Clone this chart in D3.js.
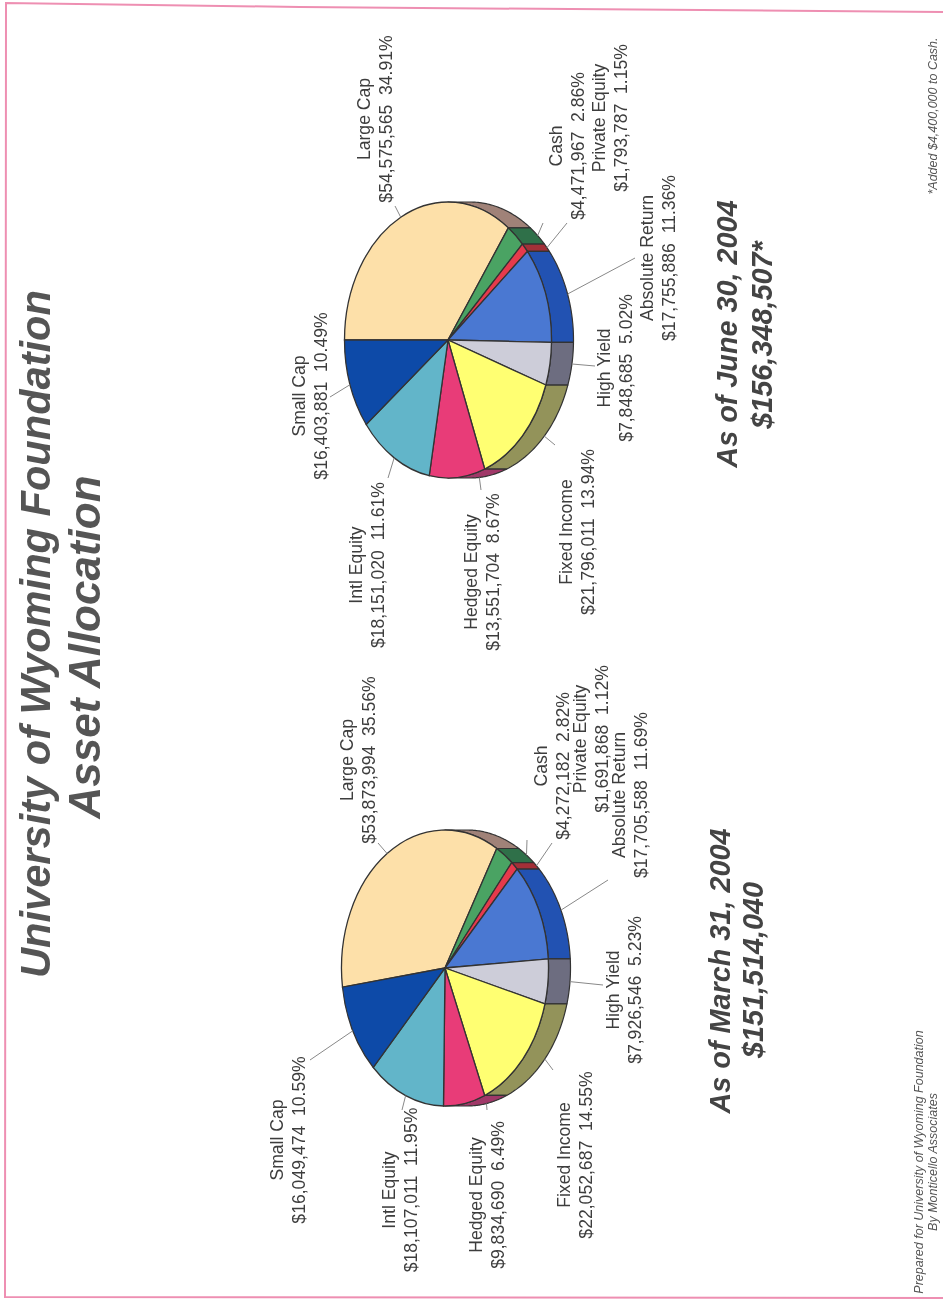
<!DOCTYPE html>
<html>
<head>
<meta charset="utf-8">
<script src="https://cdn.jsdelivr.net/npm/d3@7"></script>
<style>
    html, body { margin: 0; padding: 0; background: #fff; }
    svg { display: block; filter: blur(0.4px); }
    text { font-family: "Liberation Sans", Arial, sans-serif; fill: #3d3d3d; }
    .title { font-size: 41.6px; font-weight: bold; font-style: italic; fill: #555; }
    .subtitle { font-size: 44px; font-weight: bold; font-style: italic; fill: #555; }
    .asof { font-size: 28.8px; font-weight: bold; font-style: italic; fill: #444; }
    .note { font-size: 12.5px; font-style: italic; fill: #555; }
    .label { font-size: 17.6px; }
</style>
</head>
<body>
<div id="chart"></div>
<script>
// Asset classes, same order on both pies
var assetNames = ["Large Cap", "Cash", "Private Equity", "Absolute Return", "High Yield", "Fixed Income", "Hedged Equity", "Intl Equity", "Small Cap"];

var marchValues = [53873994, 4272182, 1691868, 17705588, 7926546, 22052687, 9834690, 18107011, 16049474];
var marchPercents = ["35.56%", "2.82%", "1.12%", "11.69%", "5.23%", "14.55%", "6.49%", "11.95%", "10.59%"];

var juneValues = [54575565, 4471967, 1793787, 17755886, 7848685, 21796011, 13551704, 18151020, 16403881];
var junePercents = ["34.91%", "2.86%", "1.15%", "11.36%", "5.02%", "13.94%", "8.67%", "11.61%", "10.49%"];

// Slice colours, top face and side wall
var topColors = ["#fde0a9", "#4aa363", "#e63a4c", "#4a78d2", "#cdcdd9", "#ffff72", "#e83c78", "#62b5c9", "#0d4aa8"];
var wallColors = ["#a08278", "#2f7049", "#a33038", "#2252b2", "#6d6d80", "#93935a", "#a03868", "#3f7f90", "#0a3478"];

// Layout of each pie: screen position of label centre / first baseline, and leader ends
var marchLayout = {
    cx: 445, cy: 968, start: -8,
    labelY: [760, 766, 739, 795, 990, 1155, 1195, 1190, 1140],
    labelX: [353, 547, 586, 625, 619, 570, 482, 395, 283],
    leadX: [378, 527, 552, 608, 603, 553, 487, 402, 310],
    leadY: [843, 840, 843, 880, 985, 1070, 1110, 1110, 1060]
};
var juneLayout = {
    cx: 448, cy: 340, start: 0,
    labelY: [119, 146, 118, 258, 368, 532, 572, 565, 396],
    labelX: [370, 562, 605, 653, 610, 572, 477, 362, 305],
    leadX: [395, 543, 567, 635, 595, 555, 481, 388, 330],
    leadY: [206, 223, 223, 258, 366, 445, 490, 478, 397]
};

// Pie ellipse size (before the page was turned on its side)
var rx = 138;
var ry = 103.5;
var depth = 22;

var svgWidth = 943;
var svgHeight = 1301;

var SVG = d3.select("#chart")
    .append("svg")
    .attr("width", svgWidth)
    .attr("height", svgHeight);

// Page border from the scan
SVG.append("path")
    .attr("d", d3.line()([[943, 12], [300, 7], [6, 3], [5, 1297], [943, 1298]]))
    .attr("fill", "none")
    .attr("stroke", "#ee8fb2")
    .attr("stroke-width", 2);

// Draw rotated text, x is the baseline and y the centre
function sideText(x, y, txt, cls)
{
    return SVG.append("text")
        .attr("class", cls)
        .attr("text-anchor", "middle")
        .attr("xml:space", "preserve")
        .attr("transform", `translate(${x}, ${y}) rotate(-90)`)
        .text(txt);
}

var money = d3.format("$,");

function drawPie(values, percents, layout)
{
    var pie = d3.pie().sort(null)
        .startAngle(layout.start * Math.PI / 180)
        .endAngle((layout.start + 360) * Math.PI / 180);
    var slices = pie(values);

    // Pie is drawn unrotated, this maps it on to the page
    function toPage(a, drop)
    {
        return [layout.cx + drop - ry * Math.cos(a), layout.cy - rx * Math.sin(a)];
    }

    // Side walls, only the half facing the viewer
    var wallGrp = SVG.append("g");
    slices.forEach(function(d, i)
    {
        var a0 = Math.max(d.startAngle, Math.PI / 2);
        var a1 = Math.min(d.endAngle, Math.PI * 1.5);
        if (a1 <= a0) return;

        var steps = d3.range(0, 41).map(k => a0 + (a1 - a0) * k / 40);
        var pts = steps.map(a => toPage(a, 0)).concat(steps.slice().reverse().map(a => toPage(a, depth)));

        wallGrp.append("path")
            .attr("d", d3.line()(pts) + "Z")
            .attr("fill", wallColors[i])
            .attr("stroke", "#333")
            .attr("stroke-width", 1.2)
            .attr("stroke-linejoin", "round");
    });

    // Top faces
    var arc = d3.arc().innerRadius(0).outerRadius(rx);
    SVG.append("g")
        .attr("transform", `translate(${layout.cx}, ${layout.cy}) rotate(-90) scale(1, ${ry / rx})`)
        .selectAll("path")
        .data(slices)
        .enter()
        .append("path")
        .attr("d", arc)
        .attr("fill", (d, i) => topColors[i])
        .attr("stroke", "#333")
        .attr("stroke-width", 1.3)
        .attr("vector-effect", "non-scaling-stroke");

    // Leaders and labels
    slices.forEach(function(d, i)
    {
        var mid = (d.startAngle + d.endAngle) / 2;
        var lower = Math.cos(mid) < 0;
        var from = toPage(mid, lower ? depth : 0);

        SVG.append("line")
            .attr("x1", from[0])
            .attr("y1", from[1])
            .attr("x2", layout.leadX[i])
            .attr("y2", layout.leadY[i])
            .attr("stroke", "#888")
            .attr("stroke-width", 1);

        sideText(layout.labelX[i], layout.labelY[i], assetNames[i], "label");
        sideText(layout.labelX[i] + 22, layout.labelY[i], money(values[i]) + "  " + percents[i], "label");
    });
}

drawPie(marchValues, marchPercents, marchLayout);
drawPie(juneValues, junePercents, juneLayout);

// Titles
sideText(50, 634, "University of Wyoming Foundation", "title");
sideText(100, 647, "Asset Allocation", "subtitle");

sideText(730, 971, "As of March 31, 2004", "asof");
sideText(763, 970, "$151,514,040", "asof");
sideText(737, 334, "As of June 30, 2004", "asof");
sideText(772, 335, "$156,348,507*", "asof");

// Footnotes
sideText(923, 1162, "Prepared for University of Wyoming Foundation", "note");
sideText(937, 1162, "By Monticello Associates", "note");
sideText(937, 116, "*Added $4,400,000 to Cash.", "note");
</script>
</body>
</html>
